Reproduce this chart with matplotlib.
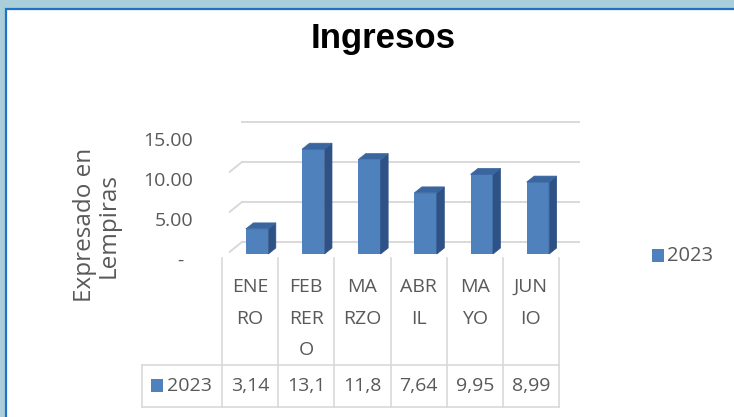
import matplotlib
matplotlib.use("Agg")
import matplotlib.pyplot as plt
from matplotlib.patches import Rectangle, Polygon
import matplotlib.transforms as mtransforms

# ---------------- data ----------------
title = "Ingresos"
y_label = "Expresado en\nLempiras"
series_name = "2023"
categories = ["ENE\nRO", "FEB\nRER\nO", "MA\nRZO", "ABR\nIL", "MA\nYO", "JUN\nIO"]
values = [3.14, 13.1, 11.8, 7.64, 9.95, 8.99]
value_labels = ["3,14", "13,1", "11,8", "7,64", "9,95", "8,99"]
y_ticks = [0, 5, 10, 15]
y_tick_labels = ["-", "5.00", "10.00", "15.00"]

# ---------------- style ----------------
W, H = 734, 417
FONT = "Open Sans"
GRAY_TXT = "#595959"
GRID = "#D9D9D9"
FRONT = "#4F81BD"
SIDE = "#2E5286"
TOP = "#3A66A0"

fig = plt.figure(figsize=(W / 100, H / 100), dpi=100)
fig.patch.set_facecolor("#AACFDB")

# pixel-coordinate layout axes (y downward)
bg = fig.add_axes([0, 0, 1, 1])
bg.set_xlim(0, W)
bg.set_ylim(H, 0)
bg.axis("off")
bg.add_patch(Rectangle((5.5, 9), W, H, facecolor="white", edgecolor="#1E73C6", lw=1.6, zorder=0))

# bar (data) axes
px_left, px_right = 229, 566       # x extent of the bar plane (pixels)
px_zero, px_per_unit = 254, 8.0    # y pixel of value 0 and scale
ymax = 15
ax = fig.add_axes([px_left / W, (H - px_zero) / H,
                   (px_right - px_left) / W, ymax * px_per_unit / H])
ax.set_xlim(-0.5, len(categories) - 0.5)
ax.set_ylim(0, ymax)
ax.axis("off")
ax.patch.set_alpha(0)

def shifted(dx_px, dy_px):
    return ax.transData + mtransforms.ScaledTranslation(dx_px / 100, dy_px / 100, fig.dpi_scale_trans)

back_tr = shifted(13, 12)     # back wall
front_tr = shifted(-7, -4)    # front edge of the floor

# back wall gridlines and left side wall diagonals
for v in y_ticks:
    ax.plot([-0.5, len(categories) - 0.5], [v, v], color=GRID, lw=1.4,
            transform=back_tr, clip_on=False, zorder=1)
    p_front = front_tr.transform((-0.5, v))
    p_back = back_tr.transform((-0.5, v))
    ax.add_line(plt.Line2D([p_front[0], p_back[0]], [p_front[1], p_back[1]],
                           color=GRID, lw=1.4, transform=mtransforms.IdentityTransform(),
                           zorder=1))

# tick labels (aligned with front edge)
for v, lab in zip(y_ticks, y_tick_labels):
    tr = shifted(-36 if lab != "-" else -45, -7)
    ax.text(-0.5, v, lab, transform=tr, ha="right", va="center",
            fontsize=14, color=GRAY_TXT, family=FONT, clip_on=False)

# 3D-looking bars
bar_w = 0.40
unit_x_px = (px_right - px_left) / len(categories)
ddx = 7.5 / unit_x_px
ddy = 6.0 / px_per_unit
xs = list(range(len(categories)))
ax.bar(xs, values, width=bar_w, color=FRONT, zorder=3, clip_on=False)
for x, v in zip(xs, values):
    xl, xr = x - bar_w / 2, x + bar_w / 2
    ax.add_patch(Polygon([(xr, 0), (xr, v), (xr + ddx, v + ddy), (xr + ddx, ddy)],
                         closed=True, facecolor=SIDE, edgecolor=SIDE, lw=0.5,
                         zorder=3, clip_on=False))
    ax.add_patch(Polygon([(xl, v), (xr, v), (xr + ddx, v + ddy), (xl + ddx, v + ddy)],
                         closed=True, facecolor=TOP, edgecolor=TOP, lw=0.5,
                         zorder=4, clip_on=False))

# ---------------- data table ----------------
t_left0 = 142
t_left = px_left - 7
col_w = unit_x_px
t_top, t_mid, t_bot = 258, 365, 407
n = len(categories)
for i in range(n + 1):
    xx = t_left + i * col_w
    bg.plot([xx, xx], [t_top, t_bot], color=GRID, lw=1.2, zorder=2)
bg.plot([t_left0, t_left0], [t_mid, t_bot], color=GRID, lw=1.2, zorder=2)
for yy in (t_mid, t_bot):
    bg.plot([t_left0, t_left + n * col_w], [yy, yy], color=GRID, lw=1.2, zorder=2)

line_step = 31.5
for i, cat in enumerate(categories):
    cx = t_left + (i + 0.5) * col_w
    for j, part in enumerate(cat.split("\n")):
        bg.text(cx, 287 + j * line_step, part, ha="center", va="center",
                fontsize=14, color=GRAY_TXT, family=FONT)
    bg.text(cx, 386, value_labels[i], ha="center", va="center",
            fontsize=14, color=GRAY_TXT, family=FONT)

# series key inside the table
bg.add_patch(Rectangle((151, 379), 12, 13, facecolor=FRONT, edgecolor="none", zorder=3))
bg.text(167, 386, series_name, ha="left", va="center", fontsize=14,
        color=GRAY_TXT, family=FONT)

# legend on the right
bg.add_patch(Rectangle((652, 249), 12, 13, facecolor=FRONT, edgecolor="none", zorder=3))
bg.text(667, 256, series_name, ha="left", va="center", fontsize=14.5,
        color=GRAY_TXT, family=FONT)

# title and y label
bg.text(383, 38, title, ha="center", va="center", fontsize=25, fontweight="bold",
        family="Liberation Sans", color="black")
bg.text(97, 225, y_label, ha="center", va="center", rotation=90, fontsize=17.5,
        color=GRAY_TXT, family=FONT, linespacing=1.0, multialignment="center")

fig.savefig("out.png", dpi=100, facecolor=fig.get_facecolor())
